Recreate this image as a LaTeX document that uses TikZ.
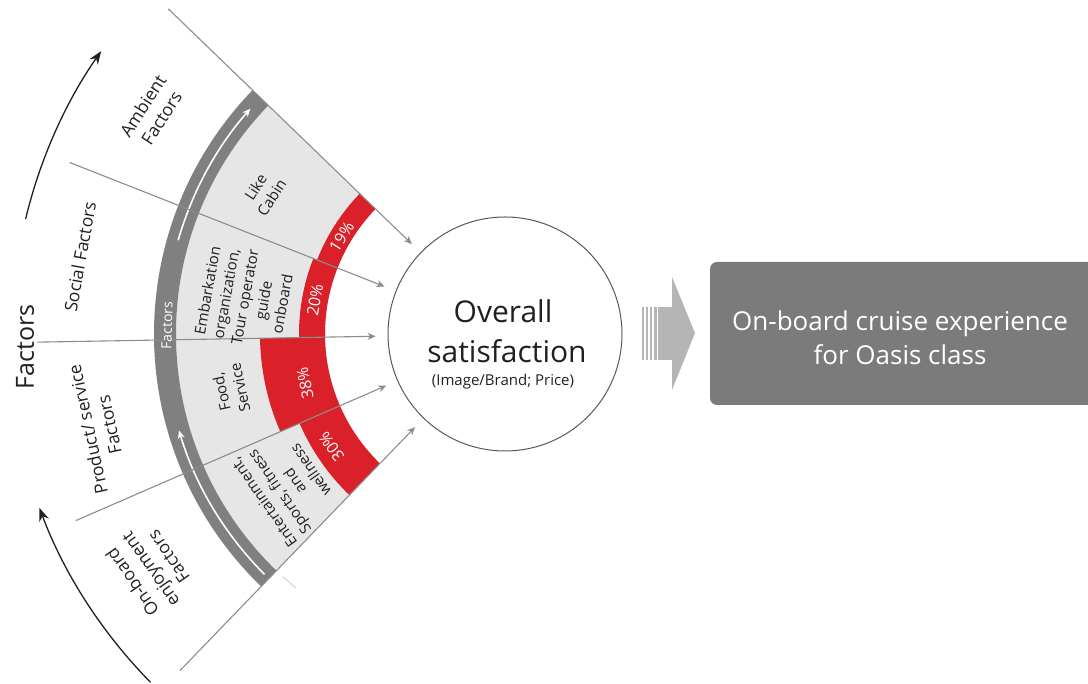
\documentclass[tikz,border=0pt]{standalone}
\usepackage{fontspec}
\setmainfont{Open Sans}
\usetikzlibrary{arrows.meta}

\definecolor{fanred}{HTML}{DA2028}
\definecolor{fangray}{HTML}{E6E6E6}
\definecolor{bandgray}{HTML}{808080}
\definecolor{raygray}{HTML}{8C8C8C}
\definecolor{boxgray}{HTML}{7B7B7B}
\definecolor{blockgray}{HTML}{B5B5B5}
\definecolor{ink}{HTML}{231F20}

\tikzset{
  ray/.style={draw=raygray, line width=1.1pt, -{Stealth[length=8pt, width=7pt]}, shorten >=12pt},
  turn/.style={draw=ink, line width=1.3pt, -{Stealth[length=13pt, width=10pt]}},
  outlabel/.style={align=center, text=ink, font=\fontsize{17.5}{22}\selectfont},
  inlabel/.style={align=center, text=ink, font=\fontsize{15}{19}\selectfont},
  pctlabel/.style={text=white, font=\fontsize{16}{19}\selectfont},
  basetext/.style={anchor=base, inner sep=0pt}
}

\begin{document}
\begin{tikzpicture}[x=1pt, y=1pt]
    \useasboundingbox (0,0) rectangle (1088,684);

    \begin{scope}[shift={(505,350)}]
    % Sectors
    \fill[fangray] (136:180pt) arc[start angle=136, end angle=226, radius=180pt]
        -- (226:329pt) arc[start angle=226, end angle=136, radius=329pt] -- cycle;
    \fill[fanred] (136:180pt) arc[start angle=136, end angle=158.5, radius=180pt]
        -- (158.5:202pt) arc[start angle=158.5, end angle=136, radius=202pt] -- cycle;
    \fill[fanred] (158.5:180pt) arc[start angle=158.5, end angle=181, radius=180pt]
        -- (181:206pt) arc[start angle=181, end angle=158.5, radius=206pt] -- cycle;
    \fill[fanred] (181:180pt) arc[start angle=181, end angle=203.5, radius=180pt]
        -- (203.5:245pt) arc[start angle=203.5, end angle=181, radius=245pt] -- cycle;
    \fill[fanred] (203.5:180pt) arc[start angle=203.5, end angle=226, radius=180pt]
        -- (226:224pt) arc[start angle=226, end angle=203.5, radius=224pt] -- cycle;

    % Band
    \fill[bandgray] (136:329pt) arc[start angle=136, end angle=226, radius=329pt]
        -- (226:351pt) arc[start angle=226, end angle=136, radius=351pt] -- cycle;
    \draw[white, line width=1.6pt, -{Stealth[length=8pt, width=7pt]}]
        (164:340pt) arc[start angle=164, end angle=138.5, radius=340pt];
    \draw[white, line width=1.6pt, -{Stealth[length=8pt, width=7pt]}]
        (225:340pt) arc[start angle=225, end angle=196.5, radius=340pt];
    \draw[fangray!80!gray, line width=1pt] (227.5:329pt) arc[start angle=227.5, end angle=230.5, radius=329pt];

    % Nodes
    \node[circle, draw=ink!75, line width=1pt, minimum size=234pt, inner sep=0pt] (sat) at (0,0) {};
    \coordinate (ray1) at (136:468pt);
    \coordinate (ray2) at (158.5:468pt);
    \coordinate (ray3) at (181:468pt);
    \coordinate (ray4) at (203.5:468pt);
    \coordinate (ray5) at (226:468pt);

    % Arrows
    \draw[ray] (ray1) -- (sat);
    \draw[ray] (ray2) -- (sat);
    \draw[ray] (ray3) -- (sat);
    \draw[ray] (ray4) -- (sat);
    \draw[ray] (ray5) -- (sat);
    \draw[turn] (166.5:493pt) arc[start angle=166.5, end angle=145, radius=493pt];
    \draw[turn] (224.5:497pt) arc[start angle=224.5, end angle=200.5, radius=497pt];

    % Labels
    \node[outlabel, rotate=57.25] (ambient) at (147.8:417pt) {Ambient\\Factors};
    \node[outlabel, rotate=79.75] (social) at (169.7:432pt) {Social Factors};
    \node[outlabel, rotate=102.25] (product) at (192.9:417pt) {Product/ service\\Factors};
    \node[outlabel, rotate=124.75] (onboard) at (213.6:426pt) {On-board\\enjoyment\\Factors};
    \node[inlabel, rotate=57.25] (cabin) at (149.6:280pt) {Like\\Cabin};
    \node[inlabel, rotate=79.75] (embark) at (171.9:263pt) {Embarkation\\organization,\\Tour operator\\guide\\onboard};
    \node[inlabel, rotate=102.25] (food) at (191.5:280pt) {Food,\\Service};
    \node[inlabel, rotate=124.75] (sports) at (215:266pt) {Entertainment,\\Sports, fitness\\and\\wellness};
    \node[pctlabel, rotate=57.25] (p19) at (149.3:190pt) {19\%};
    \node[pctlabel, rotate=79.75] (p20) at (170:193pt) {20\%};
    \node[pctlabel, rotate=102.25] (p38) at (193.9:206pt) {38\%};
    \node[pctlabel, rotate=124.75] (p30) at (213:207pt) {30\%};
    \node[pctlabel, rotate=88.6, font=\fontsize{14}{17}\selectfont] (band) at (178.6:338pt) {Factors};
    \end{scope}

    \node[text=ink, rotate=90, font=\fontsize{25}{30}\selectfont] (factors) at (25,337) {Factors};
    \node[basetext, text=ink, font=\fontsize{30}{36}\selectfont] (overall) at (503,361) {Overall};
    \node[basetext, text=ink, font=\fontsize{30}{36}\selectfont] (satis) at (507,321) {satisfaction};
    \node[basetext, text=ink, font=\fontsize{15}{18}\selectfont] (brand) at (503,298) {(Image/Brand; Price)};

    % Output
    \fill[blockgray] (642,377) -- (672,377) -- (672,407) -- (695,351) -- (672,294)
        -- (672,324) -- (642,324) -- cycle;
    \draw[white, line width=1.2pt] (645,324) -- (645,377);
    \draw[white, line width=1.2pt] (649,324) -- (649,377);
    \draw[white, line width=1.2pt] (653,324) -- (653,377);
    \draw[white, line width=1.2pt] (657.5,324) -- (657.5,377);
    \node[fill=boxgray, rounded corners=7pt, minimum width=400pt, minimum height=143pt, inner sep=0pt] (exp) at (910,350.5) {};
    \node[basetext, text=white, font=\fontsize{26}{32}\selectfont] (exp1) at (900,353) {On-board cruise experience};
    \node[basetext, text=white, font=\fontsize{26}{32}\selectfont] (exp2) at (900,319) {for Oasis class};
\end{tikzpicture}
\end{document}
